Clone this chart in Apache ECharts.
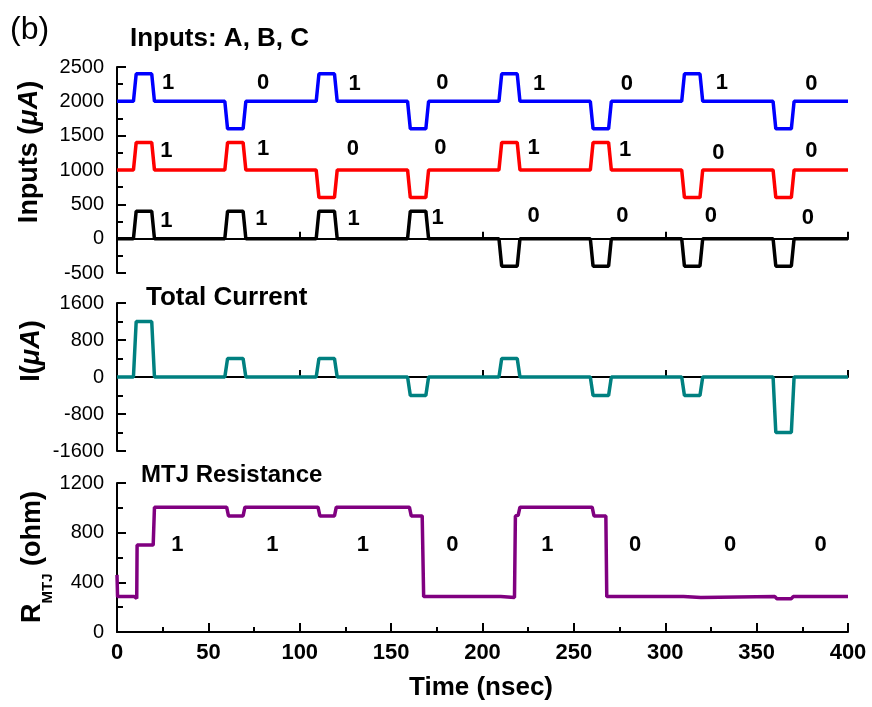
<!DOCTYPE html>
<html>
<head>
<meta charset="utf-8">
<script src="https://cdn.jsdelivr.net/npm/echarts@6/dist/echarts.min.js"></script>
<style>
  html, body { margin: 0; padding: 0; background: #fff; }
  #chart { width: 872px; height: 707px; }
</style>
</head>
<body>
<div id="chart"></div>
<script>
// input A (blue), B (red), C (black) in uA, pairs of [time nsec, value]
var inputA = [
    [0, 2000], [9, 2000], [10.5, 2400], [19, 2400], [20.5, 2000],
    [59, 2000], [60.5, 1600], [69, 1600], [70.5, 2000],
    [109, 2000], [110.5, 2400], [119, 2400], [120.5, 2000],
    [159, 2000], [160.5, 1600], [169, 1600], [170.5, 2000],
    [209, 2000], [210.5, 2400], [219, 2400], [220.5, 2000],
    [259, 2000], [260.5, 1600], [269, 1600], [270.5, 2000],
    [309, 2000], [310.5, 2400], [319, 2400], [320.5, 2000],
    [359, 2000], [360.5, 1600], [369, 1600], [370.5, 2000], [400, 2000]
];
var inputB = [
    [0, 1000], [9, 1000], [10.5, 1400], [19, 1400], [20.5, 1000],
    [59, 1000], [60.5, 1400], [69, 1400], [70.5, 1000],
    [109, 1000], [110.5, 600], [119, 600], [120.5, 1000],
    [159, 1000], [160.5, 600], [169, 600], [170.5, 1000],
    [209, 1000], [210.5, 1400], [219, 1400], [220.5, 1000],
    [259, 1000], [260.5, 1400], [269, 1400], [270.5, 1000],
    [309, 1000], [310.5, 600], [319, 600], [320.5, 1000],
    [359, 1000], [360.5, 600], [369, 600], [370.5, 1000], [400, 1000]
];
var inputC = [
    [0, 0], [9, 0], [10.5, 400], [19, 400], [20.5, 0],
    [59, 0], [60.5, 400], [69, 400], [70.5, 0],
    [109, 0], [110.5, 400], [119, 400], [120.5, 0],
    [159, 0], [160.5, 400], [169, 400], [170.5, 0],
    [209, 0], [210.5, -400], [219, -400], [220.5, 0],
    [259, 0], [260.5, -400], [269, -400], [270.5, 0],
    [309, 0], [310.5, -400], [319, -400], [320.5, 0],
    [359, 0], [360.5, -400], [369, -400], [370.5, 0], [400, 0]
];
var totalCurrent = [
    [0, 0], [9, 0], [10.5, 1200], [19, 1200], [20.5, 0],
    [59, 0], [60.5, 400], [69, 400], [70.5, 0],
    [109, 0], [110.5, 400], [119, 400], [120.5, 0],
    [159, 0], [160.5, -400], [169, -400], [170.5, 0],
    [209, 0], [210.5, 400], [219, 400], [220.5, 0],
    [259, 0], [260.5, -400], [269, -400], [270.5, 0],
    [309, 0], [310.5, -400], [319, -400], [320.5, 0],
    [359, 0], [360.5, -1200], [369, -1200], [370.5, 0], [400, 0]
];
var mtjResistance = [
    [0, 460], [0.3, 285], [9.5, 285], [10, 270], [10.8, 270], [11, 700],
    [19.8, 700], [20.5, 1005], [60, 1005], [61, 935], [69, 935], [70, 1005],
    [110, 1005], [111, 935], [119, 935], [120, 1005],
    [160, 1005], [161, 935], [167, 935], [167.8, 285],
    [210, 285], [210.5, 278], [217.5, 278], [218, 935], [219.5, 940], [220.5, 1005],
    [260, 1005], [261, 935], [267.5, 935], [268, 285],
    [310, 285], [310.5, 278], [319.5, 278], [320, 285],
    [360, 285], [361, 268], [369, 268], [370, 285], [400, 285]
];

// bit labels [time, value, text]
var labelsA = [[28, 2267, '1'], [80, 2267, '0'], [130, 2250, '1'], [178, 2267, '0'],
               [231, 2250, '1'], [279, 2250, '0'], [331, 2267, '1'], [380, 2250, '0']];
var labelsB = [[27, 1280, '1'], [80, 1306, '1'], [129, 1306, '0'], [177, 1320, '0'],
               [228, 1320, '1'], [278, 1290, '1'], [329, 1250, '0'], [380, 1277, '0']];
var labelsC = [[27, 258, '1'], [79, 287, '1'], [129.5, 287, '1'], [175.5, 301, '1'],
               [228, 330, '0'], [276.5, 330, '0'], [325, 330, '0'], [378, 301, '0']];
var labelsR = [[33, 700, '1'], [85, 700, '1'], [134.5, 700, '1'], [183.5, 700, '0'],
               [235.5, 700, '1'], [283.5, 700, '0'], [335.5, 700, '0'], [385, 700, '0']];

var FONT = 'Liberation Sans, Arial, sans-serif';

function xAxisFor(gridIndex, showLabels) {
    return {
        type: 'value', gridIndex: gridIndex, min: 0, max: 400,
        interval: showLabels ? 50 : 100,
        axisLine: { lineStyle: { color: '#000', width: 2 } },
        axisTick: { inside: true, length: showLabels ? 9 : 7, lineStyle: { color: '#000', width: 2 } },
        minorTick: { show: showLabels, splitNumber: 2, length: 5, lineStyle: { color: '#000', width: 2 } },
        axisLabel: { show: showLabels, fontFamily: FONT, fontWeight: 'bold', fontSize: 22, color: '#000', margin: 10 },
        splitLine: { show: false }
    };
}

function yAxisFor(gridIndex, min, max, interval) {
    return {
        type: 'value', gridIndex: gridIndex, min: min, max: max, interval: interval,
        axisLine: { show: true, lineStyle: { color: '#000', width: 2 } },
        axisTick: { show: true, inside: true, length: 9, lineStyle: { color: '#000', width: 2 } },
        minorTick: { show: true, splitNumber: 2, length: 6, lineStyle: { color: '#000', width: 2 } },
        axisLabel: {
            fontFamily: FONT, fontSize: 20, color: '#000', margin: 13,
            formatter: function (v) { return String(v); }
        },
        splitLine: { show: false }
    };
}

function lineSeries(data, color, xi, yi) {
    return {
        type: 'line', data: data, xAxisIndex: xi, yAxisIndex: yi,
        showSymbol: false, symbol: 'none',
        lineStyle: { color: color, width: 3.5 },
        animation: false, silent: true
    };
}

// scatter default opacity is 0.8, labels inherit it -> force 1
function labelSeries(data, xi, yi) {
    return {
        type: 'scatter', data: data, xAxisIndex: xi, yAxisIndex: yi,
        symbolSize: 0, silent: true, animation: false,
        itemStyle: { color: '#000', opacity: 1 },
        label: {
            show: true, position: 'inside', opacity: 1,
            formatter: function (p) { return p.value[2]; },
            fontFamily: FONT, fontWeight: 'bold', fontSize: 22, color: '#000',
            textBorderWidth: 0
        }
    };
}

function textEl(x, y, text, font, rotation, rich) {
    var el = {
        type: 'text', x: x, y: y, rotation: rotation || 0, silent: true,
        style: { text: text, font: font, fill: '#000', align: 'center', verticalAlign: 'middle' }
    };
    if (rich) el.style.rich = rich;
    return el;
}

var myChart = echarts.init(document.getElementById('chart'), null, { renderer: 'canvas' });

var option = {
    backgroundColor: '#fff',
    animation: false,
    grid: [
        { left: 117, top: 67, width: 731, height: 206 },
        { left: 117, top: 303, width: 731, height: 148 },
        { left: 117, top: 483, width: 731, height: 149 }
    ],
    xAxis: [xAxisFor(0, false), xAxisFor(1, false), xAxisFor(2, true)],
    yAxis: [
        yAxisFor(0, -500, 2500, 500),
        yAxisFor(1, -1600, 1600, 800),
        yAxisFor(2, 0, 1200, 400)
    ],
    graphic: [
        { type: 'text', left: 10, top: 14, silent: true,
          style: { text: '(b)', font: 'normal 32px ' + FONT, fill: '#000' } },
        { type: 'text', left: 130, top: 26, silent: true,
          style: { text: 'Inputs: A, B, C', font: 'bold 26px ' + FONT, fill: '#000' } },
        { type: 'text', left: 146, top: 285, silent: true,
          style: { text: 'Total Current', font: 'bold 26px ' + FONT, fill: '#000' } },
        { type: 'text', left: 141, top: 463, silent: true,
          style: { text: 'MTJ Resistance', font: 'bold 24px ' + FONT, fill: '#000' } },
        { type: 'text', left: 409, top: 675, silent: true,
          style: { text: 'Time (nsec)', font: 'bold 26px ' + FONT, fill: '#000' } },
        textEl(30, 152, '{b|Inputs (}{i|\u03bcA}{b|)}', 'bold 27px ' + FONT, Math.PI / 2, {
            b: { fontFamily: FONT, fontWeight: 'bold', fontSize: 27 },
            i: { fontFamily: FONT, fontWeight: 'bold', fontStyle: 'italic', fontSize: 27 }
        }),
        textEl(32, 351, '{b|I(}{i|\u03bcA}{b|)}', 'bold 27px ' + FONT, Math.PI / 2, {
            b: { fontFamily: FONT, fontWeight: 'bold', fontSize: 27 },
            i: { fontFamily: FONT, fontWeight: 'bold', fontStyle: 'italic', fontSize: 27 }
        }),
        textEl(34, 557, '{r|R}{s|MTJ}{r| (ohm)}', 'bold 27px ' + FONT, Math.PI / 2, {
            r: { fontFamily: FONT, fontWeight: 'bold', fontSize: 27, lineHeight: 30, verticalAlign: 'top' },
            s: { fontFamily: FONT, fontWeight: 'bold', fontSize: 15, lineHeight: 15, verticalAlign: 'top', padding: [21, 0, 0, 0] }
        })
    ],
    series: [
        lineSeries(inputA, '#0000ff', 0, 0),
        lineSeries(inputB, '#ff0000', 0, 0),
        lineSeries(inputC, '#000000', 0, 0),
        labelSeries(labelsA, 0, 0),
        labelSeries(labelsB, 0, 0),
        labelSeries(labelsC, 0, 0),
        lineSeries(totalCurrent, '#008080', 1, 1),
        lineSeries(mtjResistance, '#800080', 2, 2),
        labelSeries(labelsR, 2, 2)
    ]
};

if (option && typeof option === 'object') {
    myChart.setOption(option, true);
}
</script>
</body>
</html>
